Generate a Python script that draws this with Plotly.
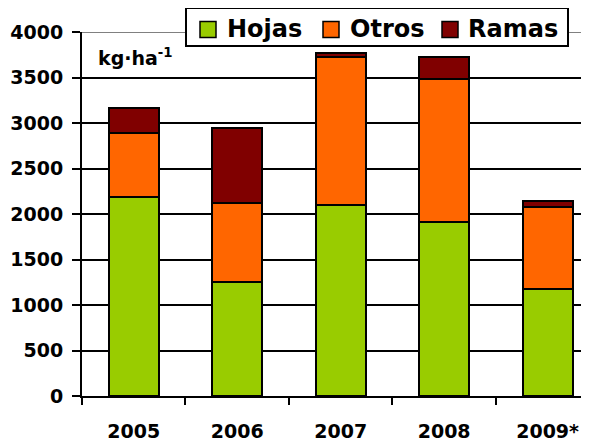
import plotly.graph_objects as go

years = ["2005", "2006", "2007", "2008", "2009*"]
hojas = [2190, 1250, 2100, 1910, 1180]
otros = [705, 875, 1625, 1575, 893]
ramas = [265, 825, 45, 240, 75]

series_names = ["Hojas", "Otros", "Ramas"]
series_colors = ["#99CC00", "#FF6600", "#800000"]
y_ticks = [0, 500, 1000, 1500, 2000, 2500, 3000, 3500, 4000]

FONT = "DejaVu Sans"

fig = go.Figure()
for name, vals, col in zip(series_names, [hojas, otros, ramas], series_colors):
    fig.add_trace(go.Bar(
        x=years, y=vals, name=name,
        marker=dict(color=col, line=dict(color="black", width=2)),
        width=0.483, showlegend=False,
    ))

fig.update_layout(
    width=581, height=436,
    barmode="stack",
    plot_bgcolor="white", paper_bgcolor="white",
    margin=dict(l=74, r=0, t=24, b=48),
    font=dict(family=FONT, color="black"),
    showlegend=False,
    xaxis=dict(
        type="category", range=[-0.5, 4.40],
        showline=True, linecolor="black", linewidth=2,
        ticks="outside", tickson="boundaries", ticklen=7, tickwidth=2, tickcolor="black",
        tickfont=dict(family=FONT, size=19, color="black", weight="bold"),
        ticklabelstandoff=17,
        showgrid=False,
    ),
    yaxis=dict(
        range=[0, 4000], tickvals=y_ticks,
        showline=True, linecolor="black", linewidth=2,
        ticks="outside", ticklen=8, tickwidth=2, tickcolor="black",
        tickfont=dict(family=FONT, size=19, color="black", weight="bold"),
        ticklabelstandoff=5,
        showgrid=True, gridcolor="black", gridwidth=1.5,
        zeroline=False,
    ),
)

# top border line of plot area (grey)
fig.add_shape(type="line", xref="paper", yref="y", x0=0, x1=1, y0=4000, y1=4000,
              line=dict(color="#808080", width=2), layer="above")

# manual legend (page px -> paper coords)
PL, PW, PB, PH = 82, 507, 396, 364
def px(x):
    return (x - PL) / PW
def py(y):
    return (PB - y) / PH

fig.add_shape(type="rect", xref="paper", yref="paper",
              x0=px(186), x1=px(568), y0=py(46), y1=py(8),
              fillcolor="white", line=dict(color="black", width=2), layer="above")
marker_x = [200, 323, 442]
text_x = [226, 349, 467]
for name, col, mx, tx in zip(series_names, series_colors, marker_x, text_x):
    fig.add_shape(type="rect", xref="paper", yref="paper",
                  x0=px(mx), x1=px(mx + 16), y0=py(37.5), y1=py(21.5),
                  fillcolor=col, line=dict(color="black", width=1.5), layer="above")
    fig.add_annotation(xref="paper", yref="paper", x=px(tx), y=py(28.5),
                       xanchor="left", yanchor="middle", text=name, showarrow=False,
                       borderpad=0,
                       font=dict(family=FONT, size=24, color="black", weight="bold"))

fig.add_annotation(
    xref="paper", yref="paper", x=0.028, y=0.93, xanchor="left", yanchor="middle",
    text="kg·ha<sup>-1</sup>", showarrow=False,
    font=dict(family=FONT, size=19, color="black", weight="bold"),
)

fig.write_html("out.html")
